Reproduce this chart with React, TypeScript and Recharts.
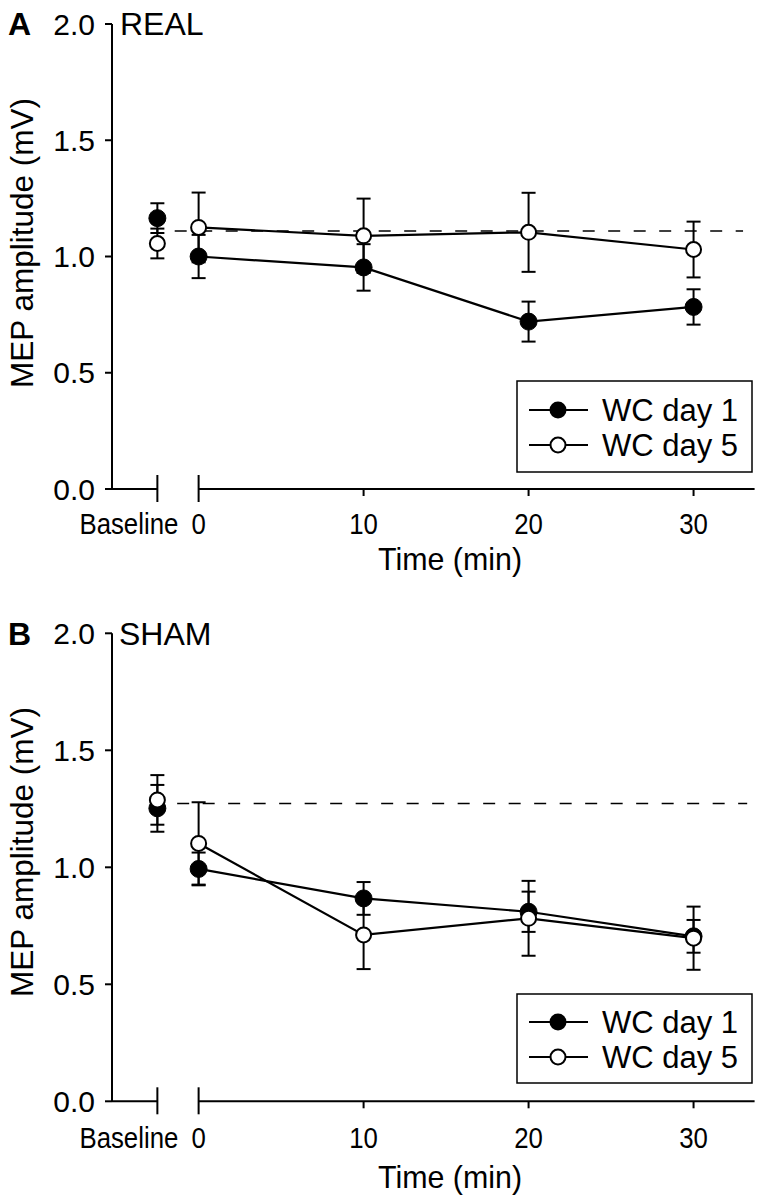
import React from 'react';
import { ComposedChart, Line, XAxis, YAxis, ErrorBar, ReferenceLine } from 'recharts';

const FONT = '"Liberation Sans", Arial, Helvetica, sans-serif';

// x positions (min); baseline sits left of the axis break
const timePoints = [0, 10, 20, 30];
const baselinePos = -2.5;
const xTicks = [baselinePos, 0, 10, 20, 30];
const yTicks = [0, 0.5, 1, 1.5, 2];

// A: REAL
const realBaseDay1 = 1.165;
const realBaseDay1Err = 0.064;
const realBaseDay5 = 1.056;
const realBaseDay5Err = 0.064;
const realDay1 = [1.0, 0.953, 0.72, 0.783];
const realDay1Err = [0.093, 0.1, 0.086, 0.076];
const realDay5 = [1.125, 1.089, 1.104, 1.03];
const realDay5Err = [0.15, 0.16, 0.17, 0.12];
const realMean = 1.11;

// B: SHAM
const shamBaseDay1 = 1.252;
const shamBaseDay1Err = 0.1;
const shamBaseDay5 = 1.288;
const shamBaseDay5Err = 0.106;
const shamDay1 = [0.993, 0.867, 0.81, 0.705];
const shamDay1Err = [0.07, 0.07, 0.086, 0.07];
const shamDay5 = [1.102, 0.711, 0.782, 0.697];
const shamDay5Err = [0.176, 0.146, 0.16, 0.135];
const shamMean = 1.273;

function buildRows(
  b1: number, b1Err: number, b5: number, b5Err: number,
  d1: number[], d1Err: number[], d5: number[], d5Err: number[]
) {
  const rows: any[] = [{ t: baselinePos, b1, b1Err, b5, b5Err }];
  timePoints.forEach((t, i) => {
    rows.push({ t, d1: d1[i], d1Err: d1Err[i], d5: d5[i], d5Err: d5Err[i] });
  });
  return rows;
}

const realRows = buildRows(realBaseDay1, realBaseDay1Err, realBaseDay5, realBaseDay5Err,
  realDay1, realDay1Err, realDay5, realDay5Err);
const shamRows = buildRows(shamBaseDay1, shamBaseDay1Err, shamBaseDay5, shamBaseDay5Err,
  shamDay1, shamDay1Err, shamDay5, shamDay5Err);

const filledDot = { r: 8.5, fill: '#000', stroke: '#000', strokeWidth: 1 };
const openDot = { r: 7.5, fill: '#fff', stroke: '#000', strokeWidth: 2 };

function TimeTick({ x, y, payload, labelOffset }: any) {
  const v = payload.value;
  const isBreak = v <= 0;
  const isBase = v === baselinePos;
  const tx = isBase ? x + 21 : x;
  return (
    <g>
      <line x1={x} x2={x} y1={isBreak ? y - 14 : y} y2={y + (isBreak ? 13 : 7)} stroke="#000" strokeWidth={2} />
      <text
        x={0}
        y={0}
        transform={`translate(${tx} ${y + labelOffset}) scale(0.86 1)`}
        textAnchor={isBase ? 'end' : 'middle'}
        fontSize={30}
        fill="#000"
        fontFamily={FONT}
      >
        {isBase ? 'Baseline' : v}
      </text>
    </g>
  );
}

type PanelProps = {
  top: number;
  height: number;
  plotTop: number;
  plotBottom: number;
  rows: any[];
  mean: number;
  dashFrom: number;
  dashTo: number;
  labelOffset: number;
};

function Panel({ top, height, plotTop, plotBottom, rows, mean, dashFrom, dashTo, labelOffset }: PanelProps) {
  const xAxisHeight = 60;
  return (
    <div style={{ position: 'absolute', left: 0, top }}>
      <ComposedChart
        width={763}
        height={height}
        data={rows}
        margin={{ top: plotTop, right: 8.4, left: 0, bottom: height - plotBottom - xAxisHeight }}
      >
        <XAxis
          dataKey="t"
          type="number"
          domain={[-5.25, 33.7]}
          ticks={xTicks}
          axisLine={false}
          tickLine={false}
          tickSize={0}
          tickMargin={0}
          height={xAxisHeight}
          tick={<TimeTick labelOffset={labelOffset} />}
          interval={0}
        />
        <YAxis
          type="number"
          domain={[0, 2]}
          ticks={yTicks}
          width={112}
          tickFormatter={(v: number) => v.toFixed(1)}
          tick={{ fontSize: 30, fill: '#000', fontFamily: FONT }}
          tickSize={7}
          tickMargin={10}
          axisLine={{ stroke: '#000', strokeWidth: 2 }}
          tickLine={{ stroke: '#000', strokeWidth: 2 }}
        />
        <ReferenceLine segment={[{ x: -5.25, y: 0 }, { x: baselinePos, y: 0 }]} stroke="#000" strokeWidth={2} />
        <ReferenceLine segment={[{ x: 0, y: 0 }, { x: 33.7, y: 0 }]} stroke="#000" strokeWidth={2} />
        <ReferenceLine
          segment={[{ x: dashFrom, y: mean }, { x: dashTo, y: mean }]}
          stroke="#000"
          strokeWidth={1.5}
          strokeDasharray="12 13.5"
        />
        <Line dataKey="b1" stroke="none" dot={filledDot} isAnimationActive={false} legendType="none">
          <ErrorBar dataKey="b1Err" direction="y" width={7} stroke="#000" strokeWidth={2} />
        </Line>
        <Line dataKey="d1" stroke="#000" strokeWidth={2.2} dot={filledDot} isAnimationActive={false}>
          <ErrorBar dataKey="d1Err" direction="y" width={7} stroke="#000" strokeWidth={2} />
        </Line>
        <Line dataKey="b5" stroke="none" dot={openDot} isAnimationActive={false} legendType="none">
          <ErrorBar dataKey="b5Err" direction="y" width={7} stroke="#000" strokeWidth={2} />
        </Line>
        <Line dataKey="d5" stroke="#000" strokeWidth={2.2} dot={openDot} isAnimationActive={false}>
          <ErrorBar dataKey="d5Err" direction="y" width={7} stroke="#000" strokeWidth={2} />
        </Line>
      </ComposedChart>
    </div>
  );
}

function LegendBox({ x, y, w, h, row1, row2 }: { x: number; y: number; w: number; h: number; row1: number; row2: number }) {
  return (
    <g>
      <rect x={x} y={y} width={w} height={h} fill="#fff" stroke="#000" strokeWidth={1.5} />
      <line x1={x + 12} x2={x + 71} y1={row1} y2={row1} stroke="#000" strokeWidth={2} />
      <circle cx={x + 41} cy={row1} r={8.5} fill="#000" />
      <text x={x + 85} y={row1 + 11} fontSize={31} fill="#000">WC day 1</text>
      <line x1={x + 12} x2={x + 71} y1={row2} y2={row2} stroke="#000" strokeWidth={2} />
      <circle cx={x + 41} cy={row2} r={7.5} fill="#fff" stroke="#000" strokeWidth={2} />
      <text x={x + 85} y={row2 + 11} fontSize={31} fill="#000">WC day 5</text>
    </g>
  );
}

export default function App() {
  return (
    <div style={{ position: 'absolute', left: 0, top: 0, width: 763, height: 1199, background: '#fff', fontFamily: FONT }}>
      <Panel top={0} height={600} plotTop={24} plotBottom={489} rows={realRows} mean={realMean} dashFrom={-1.45} dashTo={33.0} labelOffset={45} />
      <Panel top={600} height={599} plotTop={33.3} plotBottom={501.3} rows={shamRows} mean={shamMean} dashFrom={-1.3} dashTo={33.25} labelOffset={47} />
      <svg width={763} height={1199} style={{ position: 'absolute', left: 0, top: 0, pointerEvents: 'none' }} fontFamily={FONT}>
        <text x={8} y={35} fontSize={32} fontWeight="bold">A</text>
        <text x={120} y={35} fontSize={32}>REAL</text>
        <text x={8} y={645} fontSize={32} fontWeight="bold">B</text>
        <text x={119} y={645} fontSize={32}>SHAM</text>
        <text x={33} y={243} fontSize={31.5} textAnchor="middle" transform="rotate(-90 33 243)">MEP amplitude (mV)</text>
        <text x={33} y={852} fontSize={31.5} textAnchor="middle" transform="rotate(-90 33 852)">MEP amplitude (mV)</text>
        <text x={450} y={570} fontSize={32} textAnchor="middle" transform="translate(450 570) scale(0.95 1) translate(-450 -570)">Time (min)</text>
        <text x={450} y={1188} fontSize={32} textAnchor="middle" transform="translate(450 1188) scale(0.95 1) translate(-450 -1188)">Time (min)</text>
        <LegendBox x={517} y={381} w={235} h={91} row1={410} row2={445} />
        <LegendBox x={517} y={994} w={235} h={89} row1={1022} row2={1057} />
      </svg>
    </div>
  );
}
